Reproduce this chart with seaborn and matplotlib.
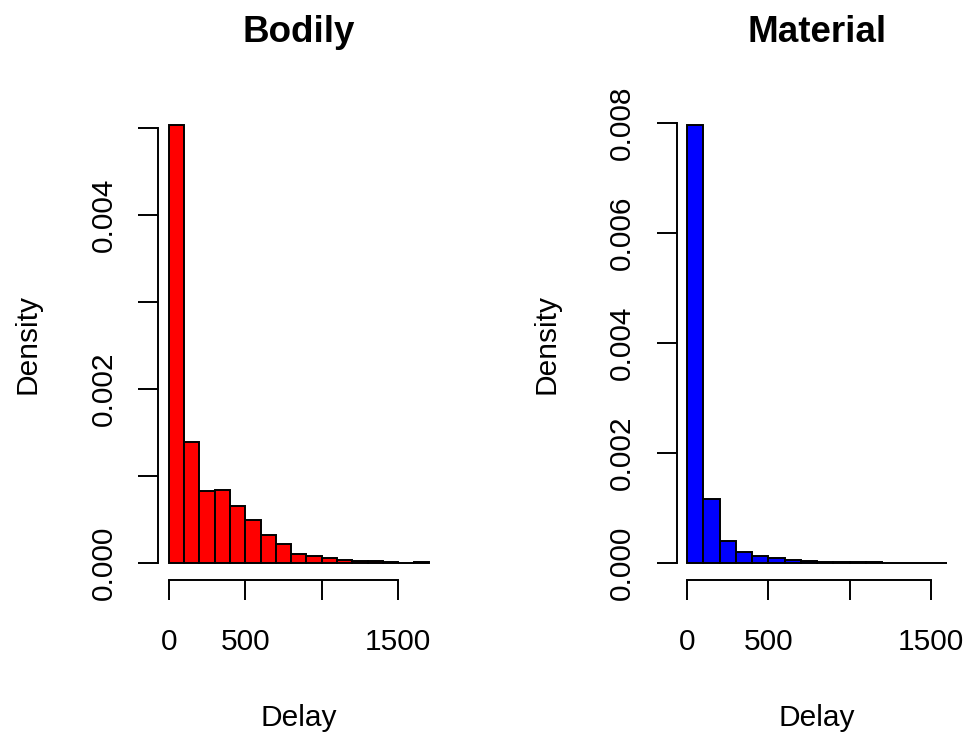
import numpy as np
import pandas as pd
import matplotlib
matplotlib.use("Agg")
import matplotlib.pyplot as plt
import seaborn as sns

# ---- data ----
bodily_bin_left = list(range(0, 1700, 100))       # bins 0-100 ... 1600-1700
bodily_density = [0.00503, 0.001383, 0.000828, 0.000831, 0.000655, 0.000494,
                  0.000314, 0.000218, 0.000100, 0.000080, 0.000050, 0.000035,
                  0.000020, 0.000015, 0.000008, 0.000000, 0.000005]

material_bin_left = list(range(0, 1600, 100))     # bins 0-100 ... 1500-1600
material_density = [0.00796, 0.001164, 0.000400, 0.000195, 0.000127, 0.000080,
                    0.000050, 0.000030, 0.000010, 0.000008, 0.000005, 0.000004,
                    0.000003, 0.000002, 0.000002, 0.000002]

titles = ["Bodily", "Material"]
colors = ["red", "blue"]
xticks = [0, 500, 1000, 1500]
xticklabels = ["0", "500", "", "1500"]
bodily_yticks = [0.000, 0.001, 0.002, 0.003, 0.004, 0.005]
bodily_yticklabels = ["0.000", "", "0.002", "", "0.004", ""]
material_yticks = [0.000, 0.002, 0.004, 0.006, 0.008]
material_yticklabels = ["0.000", "0.002", "0.004", "0.006", "0.008"]
xlabel = "Delay"
ylabel = "Density"
BIN_WIDTH = 100

sns.set_style("ticks")
plt.rcParams["font.family"] = ["Liberation Sans", "DejaVu Sans"]
plt.rcParams["text.color"] = "black"
plt.rcParams["axes.labelcolor"] = "black"
plt.rcParams["xtick.color"] = "black"
plt.rcParams["ytick.color"] = "black"

W, H = 971, 735
fig = plt.figure(figsize=(W / 100, H / 100), dpi=100)

def px_axes(x0, x1, ytop, ybot):
    return fig.add_axes([x0 / W, (H - ybot) / H, (x1 - x0) / W, (ybot - ytop) / H])

ax1 = px_axes(158.3, 439.3, 107.4, 580.2)
ax2 = px_axes(676.7, 957.4, 107.4, 580.2)

panels = [
    (ax1, bodily_bin_left, bodily_density, bodily_yticks, bodily_yticklabels),
    (ax2, material_bin_left, material_density, material_yticks, material_yticklabels),
]

LW = 1.4
FS = 21.5
for i, (ax, lefts, dens, yt, ytl) in enumerate(panels):
    lo, hi = lefts[0], lefts[-1] + BIN_WIDTH
    centers = [l + BIN_WIDTH / 2 for l in lefts]
    df = pd.DataFrame({"delay": centers, "density": dens})
    sns.histplot(data=df, x="delay", weights="density", binwidth=BIN_WIDTH,
                 binrange=(lo, hi), stat="count", color=colors[i],
                 edgecolor="black", linewidth=LW, alpha=1.0, ax=ax)
    xr = hi - lo
    ax.set_xlim(lo - 0.04 * xr, hi + 0.04 * xr)
    ymax = max(dens)
    ax.set_ylim(-0.04 * ymax, 1.04 * ymax)

    for s in ["top", "right"]:
        ax.spines[s].set_visible(False)
    for s in ["left", "bottom"]:
        ax.spines[s].set_linewidth(LW)
        ax.spines[s].set_color("black")
    ax.spines["bottom"].set_bounds(xticks[0], xticks[-1])
    ax.spines["left"].set_bounds(yt[0], yt[-1])

    ax.set_xticks(xticks)
    ax.set_xticklabels(xticklabels, fontsize=FS, color="black")
    ax.set_yticks(yt)
    ax.set_yticklabels(ytl, fontsize=FS, rotation=90, va="center", color="black")
    ax.tick_params(axis="both", which="major", direction="out", length=14.4,
                   width=LW, color="black", labelcolor="black",
                   bottom=True, left=True, top=False, right=False)
    ax.tick_params(axis="x", pad=20.0)
    ax.tick_params(axis="y", pad=14.7)

    ax.set_xlabel(xlabel, fontsize=FS, color="black")
    ax.set_ylabel(ylabel, fontsize=FS, color="black")
    ax.xaxis.set_label_coords(0.5, (580.2 - 704.0) / 472.8)
    ax.yaxis.set_label_coords((41.5 - 158.3) / 281.0, 0.5)
    ax.set_title(titles[i], fontsize=26.5, fontweight="bold", pad=46.9, color="black")
    ax.grid(False)

fig.savefig("out.png", dpi=100, facecolor="white")
